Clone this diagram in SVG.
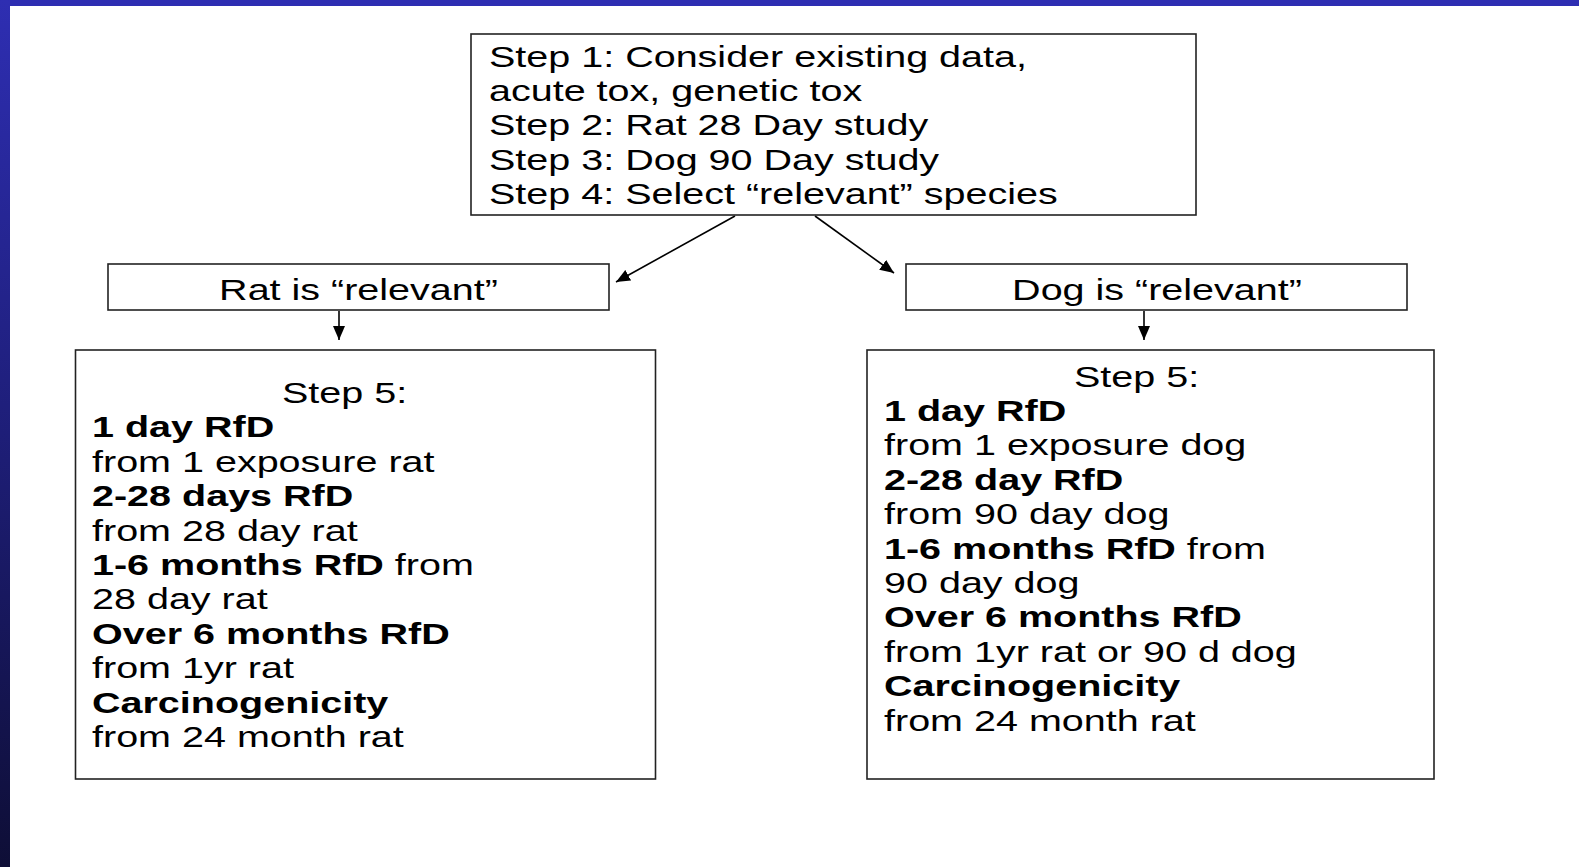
<svg xmlns="http://www.w3.org/2000/svg" width="1579" height="867" viewBox="0 0 1579 867">
<defs>
<linearGradient id="sideGrad" x1="0" y1="0" x2="0" y2="1">
<stop offset="0" stop-color="#2E2EB2"/>
<stop offset="0.5" stop-color="#1E1E78"/>
<stop offset="1" stop-color="#0E0E36"/>
</linearGradient>
<marker id="arrow" markerUnits="userSpaceOnUse" markerWidth="15" markerHeight="12" refX="14" refY="6" orient="auto">
<path d="M0,0 L14,6 L0,12 Z" fill="#000"/>
</marker>
</defs>
<style>
.box{fill:#fff;stroke:#222;stroke-width:1.6}
.t{font-family:"Liberation Sans",Arial,sans-serif;font-size:28.8px;fill:#000}
.b{font-weight:bold}
.conn{stroke:#000;stroke-width:1.6;fill:none;marker-end:url(#arrow)}
</style>
<rect x="0" y="0" width="1579" height="867" fill="#fff"/>
<rect x="0" y="0" width="1579" height="6" fill="#2E2EB2"/>
<rect x="0" y="0" width="10" height="867" fill="url(#sideGrad)"/>

<g id="connectors">
<line class="conn" x1="735" y1="216" x2="616" y2="282"/>
<line class="conn" x1="815" y1="216" x2="894" y2="273"/>
<line class="conn" x1="339" y1="311" x2="339" y2="340"/>
<line class="conn" x1="1144" y1="311" x2="1144" y2="340"/>
</g>

<g id="step1to4">
<rect class="box" x="471" y="34" width="725" height="181"/>
<text class="t" transform="translate(489,67) scale(1.372,1)">Step 1: Consider existing data,</text>
<text class="t" transform="translate(489,101.2) scale(1.372,1)">acute tox, genetic tox</text>
<text class="t" transform="translate(489,135.4) scale(1.372,1)">Step 2: Rat 28 Day study</text>
<text class="t" transform="translate(489,169.6) scale(1.372,1)">Step 3: Dog 90 Day study</text>
<text class="t" transform="translate(489,203.8) scale(1.372,1)">Step 4: Select “relevant” species</text>
</g>

<g id="rat-relevant">
<rect class="box" x="108" y="264" width="501" height="46"/>
<text class="t" text-anchor="middle" transform="translate(358.5,300) scale(1.372,1)">Rat is “relevant”</text>
</g>

<g id="dog-relevant">
<rect class="box" x="906" y="264" width="501" height="46"/>
<text class="t" text-anchor="middle" transform="translate(1157,300) scale(1.372,1)">Dog is “relevant”</text>
</g>

<g id="rat-step5">
<rect class="box" x="75.5" y="350" width="580" height="429"/>
<text class="t" transform="translate(282,403) scale(1.372,1)">Step 5:</text>
<text class="t b" transform="translate(92,437.4) scale(1.372,1)">1 day RfD</text>
<text class="t" transform="translate(92,471.8) scale(1.372,1)">from 1 exposure rat</text>
<text class="t b" transform="translate(92,506.2) scale(1.372,1)">2-28 days RfD</text>
<text class="t" transform="translate(92,540.6) scale(1.372,1)">from 28 day rat</text>
<text class="t" transform="translate(92,575) scale(1.372,1)"><tspan class="b">1-6 months RfD</tspan> from</text>
<text class="t" transform="translate(92,609.4) scale(1.372,1)">28 day rat</text>
<text class="t b" transform="translate(92,643.8) scale(1.372,1)">Over 6 months RfD</text>
<text class="t" transform="translate(92,678.2) scale(1.372,1)">from 1yr rat</text>
<text class="t b" transform="translate(92,712.6) scale(1.372,1)">Carcinogenicity</text>
<text class="t" transform="translate(92,747) scale(1.372,1)">from 24 month rat</text>
</g>

<g id="dog-step5">
<rect class="box" x="867" y="350" width="567" height="429"/>
<text class="t" transform="translate(1074,386.6) scale(1.372,1)">Step 5:</text>
<text class="t b" transform="translate(884,421) scale(1.372,1)">1 day RfD</text>
<text class="t" transform="translate(884,455.4) scale(1.372,1)">from 1 exposure dog</text>
<text class="t b" transform="translate(884,489.8) scale(1.372,1)">2-28 day RfD</text>
<text class="t" transform="translate(884,524.2) scale(1.372,1)">from 90 day dog</text>
<text class="t" transform="translate(884,558.6) scale(1.372,1)"><tspan class="b">1-6 months RfD</tspan> from</text>
<text class="t" transform="translate(884,593) scale(1.372,1)">90 day dog</text>
<text class="t b" transform="translate(884,627.4) scale(1.372,1)">Over 6 months RfD</text>
<text class="t" transform="translate(884,661.8) scale(1.372,1)">from 1yr rat or 90 d dog</text>
<text class="t b" transform="translate(884,696.2) scale(1.372,1)">Carcinogenicity</text>
<text class="t" transform="translate(884,730.6) scale(1.372,1)">from 24 month rat</text>
</g>
</svg>
